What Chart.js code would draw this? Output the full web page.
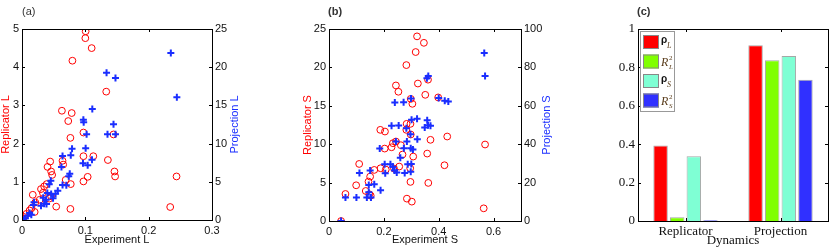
<!DOCTYPE html>
<html>
<head>
<meta charset="utf-8">
<script src="https://cdn.jsdelivr.net/npm/chart.js@4.4.1/dist/chart.umd.min.js"></script>
<style>
  body { margin: 0; background: #fff; }
  .panel { position: absolute; top: 0; }
</style>
</head>
<body>
<div class="panel" style="left:0px"><canvas id="chartA" width="255" height="247"></canvas></div>
<div class="panel" style="left:295px"><canvas id="chartB" width="265" height="247"></canvas></div>
<div class="panel" style="left:600px"><canvas id="chartC" width="232" height="247"></canvas></div>
<script>
// panel (a): experiment L vs replicator L (circles) and projection L (crosses)
const expL_rep = [0.1005, 0.100, 0.110, 0.0796, 0.133, 0.063, 0.0785, 0.073, 0.0764, 0.097, 0.1445, 0.097, 0.1126, 0.1356, 0.064,
  0.065, 0.0445, 0.0403, 0.046, 0.0476, 0.146, 0.147, 0.1037, 0.097, 0.244, 0.077, 0.069, 0.039, 0.035, 0.030,
  0.033, 0.017, 0.054, 0.0764, 0.234, 0.028, 0.043, 0.021, 0.020, 0.012, 0.007, 0.003, 0.015, 0.046, 0.001];
const repL = [4.94, 4.76, 4.50, 4.17, 3.36, 2.86, 2.80, 2.59, 2.15, 2.29, 2.24, 1.67, 1.67, 1.57, 1.55,
  1.45, 1.53, 1.39, 1.27, 1.18, 1.27, 1.14, 1.13, 1.01, 1.14, 0.94, 1.05, 0.94, 0.88, 0.81,
  0.71, 0.66, 0.35, 0.29, 0.34, 0.53, 0.56, 0.46, 0.21, 0.25, 0.16, 0.08, 0.31, 0.62, 0.02];
const expL_proj = [0.235, 0.2445, 0.1335, 0.1476, 0.111, 0.0969, 0.0974, 0.1445, 0.102, 0.135, 0.1476, 0.079, 0.1005, 0.064,
  0.077, 0.0623, 0.0963, 0.1037, 0.1105, 0.0754, 0.0738, 0.064, 0.070, 0.0455, 0.043, 0.0565, 0.053, 0.040,
  0.046, 0.0335, 0.038, 0.035, 0.0387, 0.019, 0.018, 0.012, 0.009, 0.005, 0.0016, 0.049, 0.030, 0.0147];
const projL = [21.86, 16.06, 19.28, 18.59, 14.53, 13.13, 12.78, 12.52, 11.21, 11.21, 11.21, 9.34, 9.38, 8.38,
  8.46, 6.94, 7.42, 7.16, 7.90, 6.06, 5.72, 4.58, 4.54, 5.15, 4.67, 3.84, 3.45, 3.53,
  3.40, 2.92, 2.66, 2.14, 2.09, 2.31, 1.96, 0.92, 0.57, 0.22, 0.04, 2.84, 1.88, 0.70];

// panel (b): experiment S vs replicator S and projection S
const expS_rep = [0.321, 0.346, 0.316, 0.282, 0.244, 0.253, 0.324, 0.361, 0.351, 0.298, 0.304, 0.398, 0.283, 0.297, 0.187,
  0.204, 0.282, 0.298, 0.370, 0.431, 0.569, 0.244, 0.233, 0.262, 0.228, 0.203, 0.268, 0.307, 0.358, 0.110,
  0.421, 0.188, 0.165, 0.237, 0.256, 0.296, 0.207, 0.150, 0.144, 0.099, 0.134, 0.147, 0.152, 0.297, 0.362,
  0.060, 0.284, 0.302, 0.564, 0.044];
const repS = [24.04, 23.2, 22.0, 20.3, 17.65, 16.83, 17.9, 18.4, 16.43, 15.9, 15.26, 16.09, 12.65, 12.65, 11.87,
  11.65, 11.87, 11.26, 10.57, 11.0, 9.96, 10.35, 10.13, 9.87, 9.6, 9.43, 8.65, 8.39, 8.78, 7.43,
  7.26, 6.87, 6.65, 6.83, 7.09, 6.87, 6.70, 5.78, 5.13, 4.65, 3.91, 3.48, 3.30, 5.09, 4.96,
  3.52, 2.91, 2.52, 1.65, 0.0];
const expS_proj = [0.566, 0.569, 0.357, 0.362, 0.299, 0.400, 0.422, 0.435, 0.240, 0.272, 0.301, 0.321, 0.358, 0.361, 0.370,
  0.349, 0.228, 0.254, 0.282, 0.297, 0.322, 0.244, 0.284, 0.185, 0.273, 0.298, 0.306, 0.260, 0.203, 0.224,
  0.233, 0.287, 0.300, 0.111, 0.150, 0.205, 0.247, 0.239, 0.276, 0.298, 0.165, 0.145, 0.188, 0.145, 0.060,
  0.100, 0.138, 0.153, 0.044];
const projS = [87.5, 75.5, 74.4, 75.5, 63.8, 64.0, 62.6, 62.3, 61.7, 61.9, 52.7, 53.2, 52.5, 49.9, 49.6,
  48.7, 49.6, 49.7, 48.3, 45.2, 42.6, 41.4, 41.4, 37.7, 37.9, 37.9, 37.2, 32.9, 29.6, 29.6,
  28.3, 29.6, 29.7, 25.0, 26.3, 24.9, 25.2, 26.3, 25.0, 25.6, 19.1, 18.8, 16.0, 15.0, 12.2,
  12.2, 12.2, 12.2, 0];

// panel (c): correlation / R^2 per dynamics
const dynamics = ['Replicator', 'Projection'];
const rhoL = [0.393, 0.915];
const r2L = [0.019, 0.837];
const rhoS = [0.337, 0.859];
const r2S = [0.004, 0.736];

const SANS = "'Liberation Sans', Arial, sans-serif";
const SERIF = "'Liberation Serif', 'Times New Roman', serif";
const RED = '#ff0000';
const BLUE = '#1a2eff';

function pairs(xs, ys) {
  return xs.map((x, i) => ({ x: x, y: ys[i] }));
}

function plainNum(v) {
  return String(+Number(v).toFixed(3));
}

// matlab style box: frame, inward ticks, panel letter, right-hand title, custom legend
const matlabBox = {
  id: 'matlabBox',
  afterDatasetsDraw(chart, args, opts) {
    const { ctx, chartArea: a } = chart;
    ctx.save();
    ctx.strokeStyle = '#000';
    ctx.lineWidth = 1;
    ctx.strokeRect(Math.round(a.left) + 0.5, Math.round(a.top) + 0.5,
      Math.round(a.right - a.left), Math.round(a.bottom - a.top));
    const tl = 3;
    ctx.beginPath();
    Object.values(chart.scales).forEach(s => {
      s.ticks.forEach((t, i) => {
        const p = Math.round(s.getPixelForTick(i)) + 0.5;
        if (s.axis === 'x') {
          ctx.moveTo(p, a.bottom); ctx.lineTo(p, a.bottom - tl);
          ctx.moveTo(p, a.top); ctx.lineTo(p, a.top + tl);
        } else {
          if (s.position === 'left' || opts.mirrorY) {
            ctx.moveTo(a.left, p); ctx.lineTo(a.left + tl, p);
          }
          if (s.position === 'right' || opts.mirrorY) {
            ctx.moveTo(a.right, p); ctx.lineTo(a.right - tl, p);
          }
        }
      });
    });
    ctx.stroke();

    // panel letter
    ctx.fillStyle = '#333';
    ctx.font = (opts.bold ? 'bold ' : '') + '11px ' + SANS;
    ctx.textBaseline = 'middle';
    ctx.textAlign = 'left';
    ctx.fillText(opts.label, a.left + (opts.labelDx || 0), 12);

    // right axis title, reading bottom to top
    if (opts.rightTitle) {
      ctx.save();
      ctx.translate(a.right + opts.rightTitleDx, (a.top + a.bottom) / 2);
      ctx.rotate(-Math.PI / 2);
      ctx.fillStyle = opts.rightTitleColor;
      ctx.font = '11px ' + SANS;
      ctx.textAlign = 'center';
      ctx.textBaseline = 'middle';
      ctx.fillText(opts.rightTitle, 0, 0);
      ctx.restore();
    }

    // legend with sub/superscripts
    if (opts.legend) {
      const bx = a.left + 2, by = a.top + 2, bw = 34, bh = 80;
      ctx.fillStyle = '#fff';
      ctx.fillRect(bx, by, bw, bh);
      ctx.strokeStyle = '#999';
      ctx.strokeRect(bx + 0.5, by + 0.5, bw, bh);
      chart.data.datasets.forEach((ds, i) => {
        const sy = by + 4 + i * 19.5;
        ctx.fillStyle = ds.backgroundColor;
        ctx.fillRect(bx + 3, sy, 16, 14);
        ctx.strokeStyle = '#888';
        ctx.strokeRect(bx + 3.5, sy + 0.5, 15, 13);
        const tx = bx + 21;
        const brown = '#5a3d1c';
        ctx.textAlign = 'left';
        ctx.textBaseline = 'alphabetic';
        if (ds.sym === 'ρ') {
          ctx.fillStyle = '#111';
          ctx.font = 'bold 10px ' + SANS;
          ctx.fillText('ρ', tx, sy + 8);
          ctx.fillStyle = brown;
          ctx.font = 'italic 8px ' + SERIF;
          ctx.fillText(ds.sub, tx + 6, sy + 13);
        } else {
          ctx.fillStyle = brown;
          ctx.font = 'italic 12px ' + SERIF;
          ctx.fillText('R', tx, sy + 11);
          ctx.font = '7px ' + SERIF;
          ctx.fillText('2', tx + 8, sy + 5);
          ctx.font = 'italic 7px ' + SERIF;
          ctx.fillText(ds.sub, tx + 8, sy + 14);
        }
      });
    }
    ctx.restore();
  }
};

const tickFont = { family: SANS, size: 11 };
const titleFont = { family: SANS, size: 11, lineHeight: 1 };
const noGrid = { display: false, drawTicks: false };

function scatterConfig(p) {
  return {
    type: 'scatter',
    data: {
      datasets: [
        {
          label: p.repLabel, data: p.rep, yAxisID: 'y', order: 1,
          pointStyle: 'circle', pointRadius: 3.4, borderWidth: 1,
          borderColor: RED, backgroundColor: 'rgba(0,0,0,0)'
        },
        {
          label: p.projLabel, data: p.proj, yAxisID: 'y2', order: 0,
          pointStyle: 'cross', pointRadius: 3.5, borderWidth: 2,
          borderColor: BLUE, backgroundColor: BLUE
        }
      ]
    },
    options: {
      responsive: false,
      animation: false,
      layout: { padding: { top: 29, left: 0, right: 0, bottom: 0 } },
      plugins: {
        legend: { display: false },
        tooltip: { enabled: false },
        matlabBox: {
          label: p.label, bold: p.bold, labelDx: p.labelDx,
          rightTitle: p.projLabel, rightTitleColor: BLUE, rightTitleDx: p.rightTitleDx
        }
      },
      scales: {
        x: {
          type: 'linear', min: 0, max: p.xMax,
          ticks: { stepSize: p.xStep, includeBounds: false, padding: 4, font: tickFont, color: '#111', maxRotation: 0, callback: plainNum },
          grid: noGrid, border: { display: false },
          title: { display: true, text: p.xTitle, font: titleFont, color: '#111', padding: { top: 0, bottom: 2 } },
          afterFit: s => { s.height = p.xHeight; }
        },
        y: {
          position: 'left', min: 0, max: p.yMax,
          ticks: { stepSize: p.yStep, padding: 3, font: tickFont, color: '#111', callback: plainNum },
          grid: noGrid, border: { display: false },
          title: { display: true, text: p.repLabel, font: titleFont, color: RED, padding: { top: p.leftTitlePad, bottom: 0 } },
          afterFit: s => { s.width = p.leftWidth; }
        },
        y2: {
          position: 'right', min: 0, max: p.y2Max,
          ticks: { stepSize: p.y2Step, padding: 3, font: tickFont, color: '#111', callback: plainNum },
          grid: noGrid, border: { display: false },
          afterFit: s => { s.width = p.rightWidth; }
        }
      }
    },
    plugins: [matlabBox]
  };
}

new Chart(document.getElementById('chartA'), scatterConfig({
  label: '(a)', bold: false, labelDx: 0,
  rep: pairs(expL_rep, repL), proj: pairs(expL_proj, projL),
  repLabel: 'Replicator L', projLabel: 'Projection L', xTitle: 'Experiment L',
  xMax: 0.3, xStep: 0.1, yMax: 5, yStep: 1, y2Max: 25, y2Step: 5,
  leftWidth: 22, rightWidth: 43, xHeight: 27, leftTitlePad: 0, rightTitleDx: 23
}));

new Chart(document.getElementById('chartB'), scatterConfig({
  label: '(b)', bold: true, labelDx: -1,
  rep: pairs(expS_rep, repS), proj: pairs(expS_proj, projS),
  repLabel: 'Replicator S', projLabel: 'Projection S', xTitle: 'Experiment S',
  xMax: 0.7, xStep: 0.2, yMax: 25, yStep: 5, y2Max: 100, y2Step: 20,
  leftWidth: 34, rightWidth: 39, xHeight: 26, leftTitlePad: 7.5, rightTitleDx: 26
}));

new Chart(document.getElementById('chartC'), {
  type: 'bar',
  data: {
    labels: dynamics,
    datasets: [
      { label: 'ρL', sym: 'ρ', sub: 'L', data: rhoL, backgroundColor: '#ff0000' },
      { label: 'R2L', sym: 'R', sub: 'L', data: r2L, backgroundColor: '#80ff00' },
      { label: 'ρS', sym: 'ρ', sub: 'S', data: rhoS, backgroundColor: '#7fffd4' },
      { label: 'R2S', sym: 'R', sub: 'S', data: r2S, backgroundColor: '#3030ff' }
    ]
  },
  options: {
    responsive: false,
    animation: false,
    layout: { padding: { top: 29, left: 0, right: 4, bottom: 0 } },
    datasets: {
      bar: { categoryPercentage: 0.7, barPercentage: 0.87, borderColor: 'rgba(0,0,0,0.35)', borderWidth: 1 }
    },
    plugins: {
      legend: { display: false },
      tooltip: { enabled: false },
      matlabBox: { label: '(c)', bold: true, labelDx: -1, mirrorY: true, legend: true }
    },
    scales: {
      x: {
        ticks: { padding: 3, font: { family: SERIF, size: 13 }, color: '#111' },
        grid: noGrid, border: { display: false },
        title: { display: true, text: 'Dynamics', font: { family: SERIF, size: 13, lineHeight: 1 }, color: '#111', padding: { top: 0, bottom: 0 } },
        afterFit: s => { s.height = 26; }
      },
      y: {
        min: 0, max: 1,
        ticks: { stepSize: 0.2, padding: 3, font: { family: SERIF, size: 13 }, color: '#111', callback: plainNum },
        grid: noGrid, border: { display: false },
        afterFit: s => { s.width = 38; }
      }
    }
  },
  plugins: [matlabBox]
});
</script>
</body>
</html>
